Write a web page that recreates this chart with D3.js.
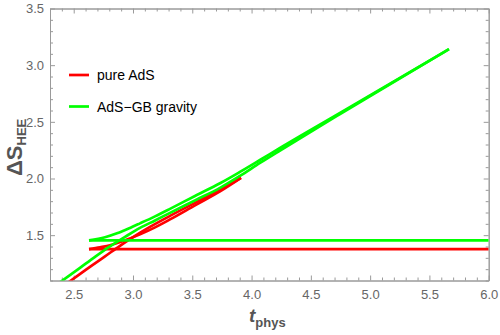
<!DOCTYPE html>
<html>
<head>
<meta charset="utf-8">
<script src="https://cdn.jsdelivr.net/npm/d3@7"></script>
<style>
  html, body { margin: 0; padding: 0; background: #fff; }
  svg { display: block; }
  text { font-family: "Liberation Sans", Arial, sans-serif; }
</style>
</head>
<body>
<svg id="chart" width="500" height="335"></svg>
<script>
// ---- data ----
const xMajorTicks = [2.5, 3.0, 3.5, 4.0, 4.5, 5.0, 5.5, 6.0];
const yMajorTicks = [1.5, 2.0, 2.5, 3.0, 3.5];

// pure AdS: steep branch (starts below frame, ends at cusp)
const adsLowerT = [2.452, 2.637, 2.764, 2.890, 3.017, 3.143, 3.312, 3.523, 3.734, 3.911];
const adsLowerS = [1.081, 1.221, 1.313, 1.406, 1.494, 1.573, 1.670, 1.785, 1.899, 2.005];
// pure AdS: upper branch (from plateau start to cusp)
const adsUpperT = [2.629, 2.722, 2.806, 2.933, 3.059, 3.186, 3.312, 3.523, 3.734, 3.911];
const adsUpperS = [1.377, 1.393, 1.410, 1.454, 1.507, 1.569, 1.639, 1.763, 1.886, 2.005];
// pure AdS: plateau
const adsFlatT = [2.629, 6.0];
const adsFlatS = [1.377, 1.377];

// AdS-GB gravity: steep branch
const gbLowerT = [2.384, 2.553, 2.680, 2.806, 2.933, 3.059, 3.186, 3.312, 3.523, 3.734, 3.902, 4.071, 4.240, 4.746, 5.665];
const gbLowerS = [1.084, 1.212, 1.309, 1.401, 1.485, 1.564, 1.630, 1.697, 1.807, 1.917, 2.023, 2.137, 2.247, 2.569, 3.141];
// AdS-GB gravity: upper branch
const gbUpperT = [2.629, 2.764, 2.865, 2.975, 3.059, 3.186, 3.312, 3.523, 3.734, 3.902, 4.071, 4.240, 4.746, 5.665];
const gbUpperS = [1.454, 1.481, 1.516, 1.564, 1.604, 1.666, 1.732, 1.846, 1.958, 2.058, 2.163, 2.269, 2.578, 3.141];
// AdS-GB gravity: plateau
const gbFlatT = [2.629, 6.0];
const gbFlatS = [1.454, 1.454];

const seriesNames = ["pure AdS", "AdS\u2212GB gravity"];
const seriesColors = ["#ff0000", "#00ff00"];

// ---- layout ----
const svg = d3.select("#chart");
const x = d3.scaleLinear().domain([2.3, 6.0]).range([50, 488.7]);
const y = d3.scaleLinear().domain([1.1, 3.5]).range([280.5, 8.5]);
const [x0, x1] = x.range();
const [y0, y1] = y.range();

const xMinor = d3.range(23, 61).map(d => d / 10).filter(v => !xMajorTicks.some(m => Math.abs(m - v) < 1e-9));
const yMinor = d3.range(11, 36).map(d => d / 10).filter(v => !yMajorTicks.some(m => Math.abs(m - v) < 1e-9));

svg.append("defs").append("clipPath").attr("id", "clip")
  .append("rect").attr("x", x0).attr("y", y1).attr("width", x1 - x0).attr("height", y0 - y1);

const frameColor = "#9a9a9a";
const labelColor = "#666666";
const fmt = d3.format(".1f");

function styleAxis(g) {
  g.select(".domain").attr("stroke", frameColor).attr("stroke-width", 1);
  g.selectAll(".tick line").attr("stroke", frameColor).attr("stroke-width", 1);
  g.selectAll(".tick text").attr("fill", labelColor).style("font-size", "13px")
    .style("font-family", "'Liberation Sans', Arial, sans-serif");
}

// bottom
svg.append("g").attr("transform", `translate(0,${y0})`)
  .call(d3.axisBottom(x).tickValues(xMajorTicks).tickFormat(fmt).tickSizeInner(-5).tickSizeOuter(0).tickPadding(9))
  .call(styleAxis);
svg.append("g").attr("transform", `translate(0,${y0})`)
  .call(d3.axisBottom(x).tickValues(xMinor).tickFormat("").tickSizeInner(-3).tickSizeOuter(0))
  .call(styleAxis);
// top
svg.append("g").attr("transform", `translate(0,${y1})`)
  .call(d3.axisTop(x).tickValues(xMajorTicks).tickFormat("").tickSizeInner(-5).tickSizeOuter(0))
  .call(styleAxis);
svg.append("g").attr("transform", `translate(0,${y1})`)
  .call(d3.axisTop(x).tickValues(xMinor).tickFormat("").tickSizeInner(-3).tickSizeOuter(0))
  .call(styleAxis);
// left
svg.append("g").attr("transform", `translate(${x0},0)`)
  .call(d3.axisLeft(y).tickValues(yMajorTicks).tickFormat(fmt).tickSizeInner(-5).tickSizeOuter(0).tickPadding(6))
  .call(styleAxis);
svg.append("g").attr("transform", `translate(${x0},0)`)
  .call(d3.axisLeft(y).tickValues(yMinor).tickFormat("").tickSizeInner(-3).tickSizeOuter(0))
  .call(styleAxis);
// right
svg.append("g").attr("transform", `translate(${x1},0)`)
  .call(d3.axisRight(y).tickValues(yMajorTicks).tickFormat("").tickSizeInner(-5).tickSizeOuter(0))
  .call(styleAxis);
svg.append("g").attr("transform", `translate(${x1},0)`)
  .call(d3.axisRight(y).tickValues(yMinor).tickFormat("").tickSizeInner(-3).tickSizeOuter(0))
  .call(styleAxis);

// ---- curves ----
const line = d3.line().x(d => x(d[0])).y(d => y(d[1])).curve(d3.curveMonotoneX);
const zip = (a, b) => a.map((v, i) => [v, b[i]]);

const curves = [
  { t: adsFlatT, s: adsFlatS, c: 0 },
  { t: adsLowerT, s: adsLowerS, c: 0 },
  { t: adsUpperT, s: adsUpperS, c: 0 },
  { t: gbFlatT, s: gbFlatS, c: 1 },
  { t: gbLowerT, s: gbLowerS, c: 1 },
  { t: gbUpperT, s: gbUpperS, c: 1 },
];
const plot = svg.append("g").attr("clip-path", "url(#clip)");
plot.selectAll("path.curve").data(curves).enter().append("path")
  .attr("class", "curve")
  .attr("d", d => line(zip(d.t, d.s)))
  .attr("fill", "none")
  .attr("stroke", d => seriesColors[d.c])
  .attr("stroke-width", 2.7)
  .attr("stroke-linejoin", "round")
  .attr("stroke-linecap", "butt");

// ---- legend ----
const legend = svg.append("g");
seriesNames.forEach((name, i) => {
  const ly = 75 + i * 31.5;
  legend.append("line").attr("x1", 69).attr("x2", 89).attr("y1", ly).attr("y2", ly)
    .attr("stroke", seriesColors[i]).attr("stroke-width", 2.7);
  legend.append("text").attr("x", 97).attr("y", ly + 5).attr("fill", "#000")
    .style("font-size", "14px").text(name);
});

// ---- axis titles ----
const xt = svg.append("text").attr("x", 249).attr("y", 322).attr("fill", "#555")
  .style("font-weight", "bold");
xt.append("tspan").style("font-style", "italic").style("font-size", "19px").text("t");
xt.append("tspan").attr("dy", 5).style("font-size", "13px").text("phys");

const yt = svg.append("text").attr("transform", "translate(22,176) rotate(-90)")
  .attr("fill", "#555").style("font-weight", "bold");
yt.append("tspan").style("font-size", "22px").text("\u0394S");
yt.append("tspan").attr("dy", 4).style("font-size", "13px").text("HEE");
</script>
</body>
</html>
